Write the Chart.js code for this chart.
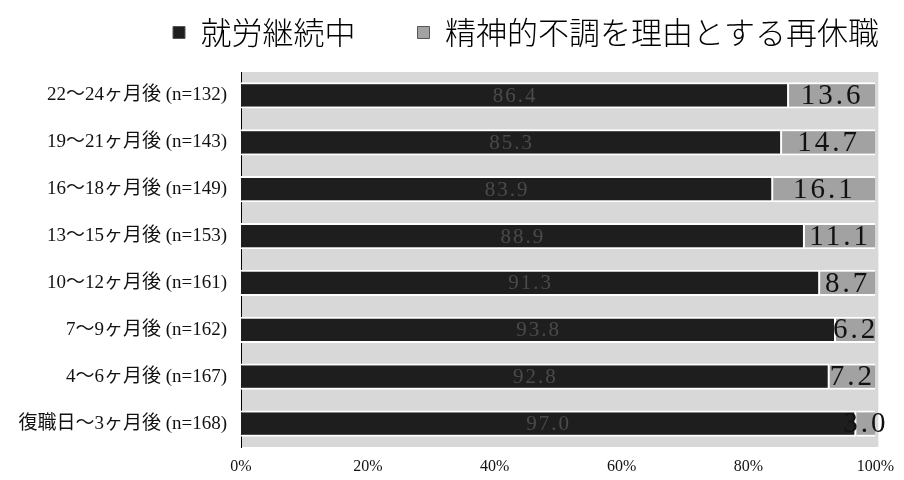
<!DOCTYPE html>
<html>
<head>
<meta charset="utf-8">
<script src="https://cdn.jsdelivr.net/npm/chart.js@4"></script>
<style>
  html, body { margin: 0; padding: 0; background: #fff; }
  #wrap { width: 904px; height: 480px; }
</style>
</head>
<body>
<div id="wrap"><canvas id="chart" width="904" height="480"></canvas></div>
<script>
// chart data
const categories = [
    '22〜24ヶ月後 (n=132)',
    '19〜21ヶ月後 (n=143)',
    '16〜18ヶ月後 (n=149)',
    '13〜15ヶ月後 (n=153)',
    '10〜12ヶ月後 (n=161)',
    '7〜9ヶ月後 (n=162)',
    '4〜6ヶ月後 (n=167)',
    '復職日〜3ヶ月後 (n=168)'
];
const seriesNames = ['就労継続中', '精神的不調を理由とする再休職'];
const working = [86.4, 85.3, 83.9, 88.9, 91.3, 93.8, 92.8, 97.0];
const reLeave = [13.6, 14.7, 16.1, 11.1, 8.7, 6.2, 7.2, 3.0];
const xTicks = [0, 20, 40, 60, 80, 100];

const SERIF = "'Liberation Serif', 'Noto Sans CJK JP', serif";

// light stippled plot background
const plotBackground = {
    id: 'plotBackground',
    beforeDraw(chart) {
        const { ctx, chartArea: a } = chart;
        ctx.save();
        ctx.fillStyle = '#d8d8d8';
        ctx.fillRect(a.left, a.top, a.right - a.left + 3, a.bottom - a.top);
        ctx.restore();
    }
};

// value labels inside the bars
const barLabels = {
    id: 'barLabels',
    afterDatasetsDraw(chart) {
        const { ctx } = chart;
        ctx.save();
        ctx.textAlign = 'center';
        ctx.textBaseline = 'middle';
        chart.data.datasets.forEach((ds, i) => {
            const meta = chart.getDatasetMeta(i);
            meta.data.forEach((bar, j) => {
                const x = (bar.x + bar.base) / 2;
                const text = ds.data[j].toFixed(1);
                if (i === 0) {
                    ctx.font = '21px ' + SERIF;
                    ctx.fillStyle = '#4a4a4a';
                    ctx.letterSpacing = '2px';
                } else {
                    ctx.font = '29px ' + SERIF;
                    ctx.fillStyle = '#111';
                    ctx.letterSpacing = '3px';
                }
                ctx.fillText(text, x, bar.y + 1);
            });
        });
        ctx.restore();
    }
};

// legend sits 17px down, plot starts at 72
const legendMargin = {
    id: 'legendMargin',
    beforeInit(chart) {
        const fit = chart.legend.fit;
        chart.legend.fit = function () {
            fit.bind(chart.legend)();
            this.height = 55;
        };
    }
};

new Chart(document.getElementById('chart'), {
    type: 'bar',
    data: {
        labels: categories,
        datasets: [
            {
                label: seriesNames[0],
                data: working,
                backgroundColor: '#1e1e1e',
                borderColor: '#ffffff',
                borderWidth: { top: 2, bottom: 2, left: 0, right: 2 },
                borderSkipped: false
            },
            {
                label: seriesNames[1],
                data: reLeave,
                backgroundColor: '#a2a2a2',
                borderColor: '#ffffff',
                borderWidth: { top: 2, bottom: 2, left: 0, right: 0 },
                borderSkipped: false
            }
        ]
    },
    options: {
        indexAxis: 'y',
        responsive: false,
        animation: false,
        layout: { padding: { top: 17, right: 25, bottom: 0, left: 0 } },
        datasets: { bar: { categoryPercentage: 1, barPercentage: 0.56 } },
        scales: {
            x: {
                stacked: true,
                min: 0,
                max: 100,
                afterBuildTicks(scale) {
                    scale.ticks = xTicks.map(v => ({ value: v }));
                },
                afterFit(scale) { scale.height = 33; },
                ticks: {
                    padding: 10,
                    color: '#111',
                    font: { family: SERIF, size: 16 },
                    callback: v => v + '%'
                },
                grid: { display: false, drawTicks: false },
                border: { display: false }
            },
            y: {
                stacked: true,
                afterFit(scale) { scale.width = 241; },
                ticks: {
                    padding: 14,
                    color: '#111',
                    font: { family: SERIF, size: 19 }
                },
                grid: { display: false, drawTicks: false },
                border: { display: true, color: '#000', width: 1 }
            }
        },
        plugins: {
            legend: {
                position: 'top',
                align: 'end',
                labels: {
                    boxWidth: 12,
                    boxHeight: 12,
                    padding: 0,
                    color: '#111',
                    font: { family: "'Noto Sans CJK JP', sans-serif", size: 31, weight: '300' },
                    generateLabels(chart) {
                        return chart.data.datasets.map((ds, i) => ({
                            text: i === 0 ? ds.label + '　　' : ds.label,
                            fillStyle: ds.backgroundColor,
                            strokeStyle: '#555',
                            lineWidth: 1,
                            datasetIndex: i
                        }));
                    }
                }
            },
            tooltip: { enabled: false }
        }
    },
    plugins: [plotBackground, barLabels, legendMargin]
});
</script>
</body>
</html>
